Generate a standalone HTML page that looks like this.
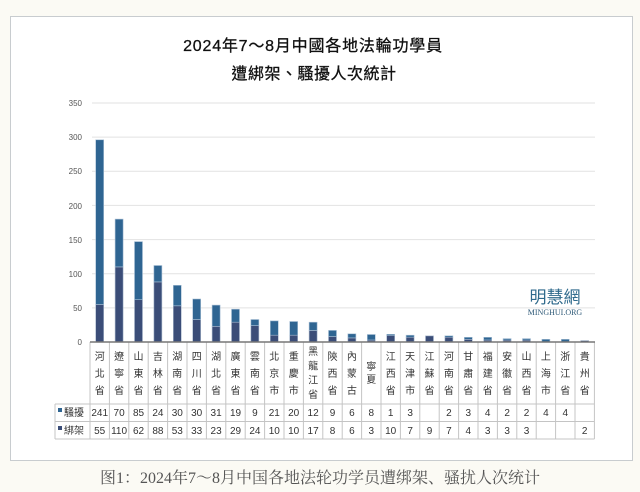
<!DOCTYPE html>
<html><head><meta charset="utf-8"><style>
html,body{margin:0;padding:0;background:#fbfaf4;width:640px;height:492px;overflow:hidden}
svg{display:block}
.h{font-family:"Liberation Sans","Noto Sans CJK TC",sans-serif;font-size:10px;fill:#333;text-anchor:middle}
.n{font-family:"Liberation Sans",sans-serif;font-size:10px;fill:#333;text-anchor:middle}
.y{font-family:"Liberation Sans",sans-serif;font-size:8px;fill:#555;text-anchor:end}
</style></head><body>
<svg width="640" height="492" xmlns="http://www.w3.org/2000/svg">
<rect x="10.5" y="16.5" width="622" height="444" fill="#fff" stroke="#c8cccf"/>
<text x="313" y="51" text-anchor="middle" font-family="'Liberation Sans','Noto Sans CJK TC',sans-serif" font-size="16" letter-spacing="0.8" fill="#111" stroke="#111" stroke-width="0.3">2024年7～8月中國各地法輪功學員</text>
<text x="314" y="79" text-anchor="middle" font-family="'Noto Sans CJK TC',sans-serif" font-size="16" letter-spacing="0.5" fill="#111" stroke="#111" stroke-width="0.3">遭綁架、騷擾人次統計</text>
<g stroke="#e2e2e2" stroke-width="1">
<line x1="92" x2="595" y1="307.9" y2="307.9"/><line x1="92" x2="595" y1="273.7" y2="273.7"/><line x1="92" x2="595" y1="239.6" y2="239.6"/><line x1="92" x2="595" y1="205.4" y2="205.4"/><line x1="92" x2="595" y1="171.3" y2="171.3"/><line x1="92" x2="595" y1="137.1" y2="137.1"/><line x1="92" x2="595" y1="103" y2="103"/>
</g>
<g class="y"><text class="y" x="82" y="345">0</text><text class="y" x="82" y="311">50</text><text class="y" x="82" y="277">100</text><text class="y" x="82" y="243">150</text><text class="y" x="82" y="209">200</text><text class="y" x="82" y="174">250</text><text class="y" x="82" y="140">300</text><text class="y" x="82" y="106">350</text></g>
<text x="555" y="303" text-anchor="middle" font-family="'Noto Sans CJK TC',sans-serif" font-size="17" fill="#2f6a8c">明慧網</text>
<text x="555" y="315" text-anchor="middle" font-family="'Liberation Serif',serif" font-size="8" fill="#2f5a78">MINGHUI.ORG</text>
<g fill="#3b4d78" stroke="#a9b8cc" stroke-width="0.6">
<rect x="95.7" y="304.4" width="8" height="37.6"/><rect x="115.1" y="266.9" width="8" height="75.1"/><rect x="134.5" y="299.7" width="8" height="42.3"/><rect x="153.9" y="281.9" width="8" height="60.1"/><rect x="173.3" y="305.8" width="8" height="36.2"/><rect x="192.7" y="319.5" width="8" height="22.5"/><rect x="212.1" y="326.3" width="8" height="15.7"/><rect x="231.5" y="322.2" width="8" height="19.8"/><rect x="250.9" y="325.6" width="8" height="16.4"/><rect x="270.3" y="335.2" width="8" height="6.8"/><rect x="289.7" y="335.2" width="8" height="6.8"/><rect x="309.1" y="330.4" width="8" height="11.6"/><rect x="328.5" y="336.5" width="8" height="5.5"/><rect x="347.9" y="337.9" width="8" height="4.1"/><rect x="367.3" y="340" width="8" height="2"/><rect x="386.7" y="335.2" width="8" height="6.8"/><rect x="406.1" y="337.2" width="8" height="4.8"/><rect x="425.5" y="335.9" width="8" height="6.1"/><rect x="444.9" y="337.2" width="8" height="4.8"/><rect x="464.3" y="339.3" width="8" height="2.7"/><rect x="483.7" y="340" width="8" height="2"/><rect x="503.1" y="340" width="8" height="2"/><rect x="522.5" y="340" width="8" height="2"/><rect x="580.7" y="340.6" width="8" height="1.4"/>
</g>
<g fill="#2f6592" stroke="#a9c0d6" stroke-width="0.6">
<rect x="95.7" y="139.8" width="8" height="164.6"/><rect x="115.1" y="219.1" width="8" height="47.8"/><rect x="134.5" y="241.6" width="8" height="58.1"/><rect x="153.9" y="265.5" width="8" height="16.4"/><rect x="173.3" y="285.3" width="8" height="20.5"/><rect x="192.7" y="299" width="8" height="20.5"/><rect x="212.1" y="305.1" width="8" height="21.2"/><rect x="231.5" y="309.2" width="8" height="13"/><rect x="250.9" y="319.5" width="8" height="6.1"/><rect x="270.3" y="320.9" width="8" height="14.3"/><rect x="289.7" y="321.5" width="8" height="13.7"/><rect x="309.1" y="322.2" width="8" height="8.2"/><rect x="328.5" y="330.4" width="8" height="6.1"/><rect x="347.9" y="333.8" width="8" height="4.1"/><rect x="367.3" y="334.5" width="8" height="5.5"/><rect x="386.7" y="334.3" width="8" height="1.2"/><rect x="406.1" y="335.2" width="8" height="2"/><rect x="444.9" y="335.8" width="8" height="1.4"/><rect x="464.3" y="337.3" width="8" height="2"/><rect x="483.7" y="337.3" width="8" height="2.7"/><rect x="503.1" y="338.6" width="8" height="1.4"/><rect x="522.5" y="338.6" width="8" height="1.4"/><rect x="541.9" y="339.3" width="8" height="2.7"/><rect x="561.3" y="339.3" width="8" height="2.7"/>
</g>
<g stroke="#c4c4c4" stroke-width="1">
<line x1="90" y1="342" x2="90" y2="439"/><line x1="109.4" y1="342" x2="109.4" y2="439"/><line x1="128.8" y1="342" x2="128.8" y2="439"/><line x1="148.2" y1="342" x2="148.2" y2="439"/><line x1="167.6" y1="342" x2="167.6" y2="439"/><line x1="187" y1="342" x2="187" y2="439"/><line x1="206.4" y1="342" x2="206.4" y2="439"/><line x1="225.8" y1="342" x2="225.8" y2="439"/><line x1="245.2" y1="342" x2="245.2" y2="439"/><line x1="264.6" y1="342" x2="264.6" y2="439"/><line x1="284" y1="342" x2="284" y2="439"/><line x1="303.4" y1="342" x2="303.4" y2="439"/><line x1="322.8" y1="342" x2="322.8" y2="439"/><line x1="342.2" y1="342" x2="342.2" y2="439"/><line x1="361.6" y1="342" x2="361.6" y2="439"/><line x1="381" y1="342" x2="381" y2="439"/><line x1="400.4" y1="342" x2="400.4" y2="439"/><line x1="419.8" y1="342" x2="419.8" y2="439"/><line x1="439.2" y1="342" x2="439.2" y2="439"/><line x1="458.6" y1="342" x2="458.6" y2="439"/><line x1="478" y1="342" x2="478" y2="439"/><line x1="497.4" y1="342" x2="497.4" y2="439"/><line x1="516.8" y1="342" x2="516.8" y2="439"/><line x1="536.2" y1="342" x2="536.2" y2="439"/><line x1="555.6" y1="342" x2="555.6" y2="439"/><line x1="575" y1="342" x2="575" y2="439"/><line x1="594.4" y1="342" x2="594.4" y2="439"/>
<line x1="55" y1="404" x2="594.4" y2="404"/><line x1="55" y1="421.5" x2="594.4" y2="421.5"/><line x1="55" y1="439" x2="594.4" y2="439"/><line x1="55" y1="404" x2="55" y2="439"/>
</g>
<line x1="90" y1="342" x2="595" y2="342" stroke="#777" stroke-width="1.5"/>
<g class="h">
<text class="h" x="99.7" y="360">河<tspan x="99.7" dy="17">北</tspan><tspan x="99.7" dy="17">省</tspan></text>
<text class="h" x="119.1" y="360">遼<tspan x="119.1" dy="17">寧</tspan><tspan x="119.1" dy="17">省</tspan></text>
<text class="h" x="138.5" y="360">山<tspan x="138.5" dy="17">東</tspan><tspan x="138.5" dy="17">省</tspan></text>
<text class="h" x="157.9" y="360">吉<tspan x="157.9" dy="17">林</tspan><tspan x="157.9" dy="17">省</tspan></text>
<text class="h" x="177.3" y="360">湖<tspan x="177.3" dy="17">南</tspan><tspan x="177.3" dy="17">省</tspan></text>
<text class="h" x="196.7" y="360">四<tspan x="196.7" dy="17">川</tspan><tspan x="196.7" dy="17">省</tspan></text>
<text class="h" x="216.1" y="360">湖<tspan x="216.1" dy="17">北</tspan><tspan x="216.1" dy="17">省</tspan></text>
<text class="h" x="235.5" y="360">廣<tspan x="235.5" dy="17">東</tspan><tspan x="235.5" dy="17">省</tspan></text>
<text class="h" x="254.9" y="360">雲<tspan x="254.9" dy="17">南</tspan><tspan x="254.9" dy="17">省</tspan></text>
<text class="h" x="274.3" y="360">北<tspan x="274.3" dy="17">京</tspan><tspan x="274.3" dy="17">市</tspan></text>
<text class="h" x="293.7" y="360">重<tspan x="293.7" dy="17">慶</tspan><tspan x="293.7" dy="17">市</tspan></text>
<text class="h" x="313.1" y="355">黑<tspan x="313.1" dy="14.3">龍</tspan><tspan x="313.1" dy="14.3">江</tspan><tspan x="313.1" dy="14.3">省</tspan></text>
<text class="h" x="332.5" y="360">陝<tspan x="332.5" dy="17">西</tspan><tspan x="332.5" dy="17">省</tspan></text>
<text class="h" x="351.9" y="360">內<tspan x="351.9" dy="17">蒙</tspan><tspan x="351.9" dy="17">古</tspan></text>
<text class="h" x="371.3" y="370">寧<tspan x="371.3" dy="13">夏</tspan></text>
<text class="h" x="390.7" y="360">江<tspan x="390.7" dy="17">西</tspan><tspan x="390.7" dy="17">省</tspan></text>
<text class="h" x="410.1" y="360">天<tspan x="410.1" dy="17">津</tspan><tspan x="410.1" dy="17">市</tspan></text>
<text class="h" x="429.5" y="360">江<tspan x="429.5" dy="17">蘇</tspan><tspan x="429.5" dy="17">省</tspan></text>
<text class="h" x="448.9" y="360">河<tspan x="448.9" dy="17">南</tspan><tspan x="448.9" dy="17">省</tspan></text>
<text class="h" x="468.3" y="360">甘<tspan x="468.3" dy="17">肅</tspan><tspan x="468.3" dy="17">省</tspan></text>
<text class="h" x="487.7" y="360">福<tspan x="487.7" dy="17">建</tspan><tspan x="487.7" dy="17">省</tspan></text>
<text class="h" x="507.1" y="360">安<tspan x="507.1" dy="17">徽</tspan><tspan x="507.1" dy="17">省</tspan></text>
<text class="h" x="526.5" y="360">山<tspan x="526.5" dy="17">西</tspan><tspan x="526.5" dy="17">省</tspan></text>
<text class="h" x="545.9" y="360">上<tspan x="545.9" dy="17">海</tspan><tspan x="545.9" dy="17">市</tspan></text>
<text class="h" x="565.3" y="360">浙<tspan x="565.3" dy="17">江</tspan><tspan x="565.3" dy="17">省</tspan></text>
<text class="h" x="584.7" y="360">貴<tspan x="584.7" dy="17">州</tspan><tspan x="584.7" dy="17">省</tspan></text>
</g>
<rect x="58" y="408" width="4" height="4" fill="#2f6592"/>
<rect x="58" y="426" width="4" height="4" fill="#3b4d78"/>
<text x="64" y="416" font-family="'Noto Sans CJK TC',sans-serif" font-size="10" fill="#333">騷擾</text>
<text x="64" y="434" font-family="'Noto Sans CJK TC',sans-serif" font-size="10" fill="#333">綁架</text>
<g class="n">
<text class="n" x="99.7" y="416">241</text><text class="n" x="119.1" y="416">70</text><text class="n" x="138.5" y="416">85</text><text class="n" x="157.9" y="416">24</text><text class="n" x="177.3" y="416">30</text><text class="n" x="196.7" y="416">30</text><text class="n" x="216.1" y="416">31</text><text class="n" x="235.5" y="416">19</text><text class="n" x="254.9" y="416">9</text><text class="n" x="274.3" y="416">21</text><text class="n" x="293.7" y="416">20</text><text class="n" x="313.1" y="416">12</text><text class="n" x="332.5" y="416">9</text><text class="n" x="351.9" y="416">6</text><text class="n" x="371.3" y="416">8</text><text class="n" x="390.7" y="416">1</text><text class="n" x="410.1" y="416">3</text><text class="n" x="448.9" y="416">2</text><text class="n" x="468.3" y="416">3</text><text class="n" x="487.7" y="416">4</text><text class="n" x="507.1" y="416">2</text><text class="n" x="526.5" y="416">2</text><text class="n" x="545.9" y="416">4</text><text class="n" x="565.3" y="416">4</text>
<text class="n" x="99.7" y="434">55</text><text class="n" x="119.1" y="434">110</text><text class="n" x="138.5" y="434">62</text><text class="n" x="157.9" y="434">88</text><text class="n" x="177.3" y="434">53</text><text class="n" x="196.7" y="434">33</text><text class="n" x="216.1" y="434">23</text><text class="n" x="235.5" y="434">29</text><text class="n" x="254.9" y="434">24</text><text class="n" x="274.3" y="434">10</text><text class="n" x="293.7" y="434">10</text><text class="n" x="313.1" y="434">17</text><text class="n" x="332.5" y="434">8</text><text class="n" x="351.9" y="434">6</text><text class="n" x="371.3" y="434">3</text><text class="n" x="390.7" y="434">10</text><text class="n" x="410.1" y="434">7</text><text class="n" x="429.5" y="434">9</text><text class="n" x="448.9" y="434">7</text><text class="n" x="468.3" y="434">4</text><text class="n" x="487.7" y="434">3</text><text class="n" x="507.1" y="434">3</text><text class="n" x="526.5" y="434">3</text><text class="n" x="584.7" y="434">2</text>
</g>
<text x="320" y="483" text-anchor="middle" font-family="'Liberation Serif','Noto Serif CJK SC',serif" font-size="16" fill="#555">图1：2024年7～8月中国各地法轮功学员遭绑架、骚扰人次统计</text>
</svg>
</body></html>
